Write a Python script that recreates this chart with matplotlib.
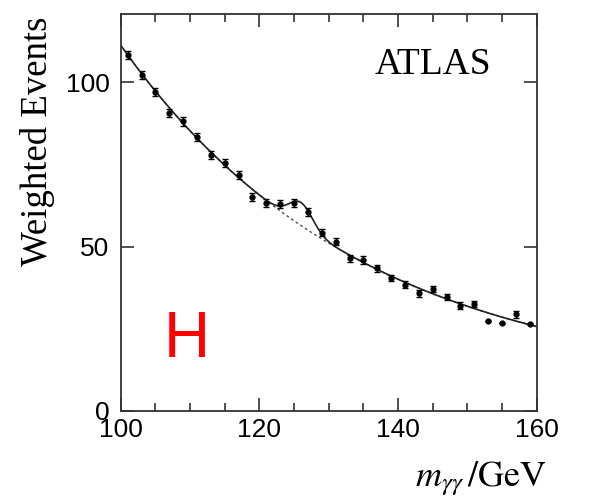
import matplotlib
matplotlib.use("Agg")
import matplotlib.pyplot as plt
import numpy as np
from matplotlib.ticker import MultipleLocator

plt.rcParams['mathtext.fontset'] = 'stix'

# diphoton mass bins (GeV) and weighted event counts
m_gg = [101, 103, 105, 107, 109, 111, 113, 115, 117, 119,
        121, 123, 125, 127, 129, 131, 133, 135, 137, 139,
        141, 143, 145, 147, 149, 151, 153, 155, 157, 159]
events = [108.2, 102.1, 97.0, 90.6, 88.1, 83.3, 77.8, 75.4, 71.7, 65.0,
          63.2, 62.9, 63.2, 60.4, 54.2, 51.5, 46.4, 45.9, 43.4, 40.4,
          38.4, 35.8, 37.1, 34.6, 32.0, 32.5, 27.4, 26.7, 29.4, 26.4]
errors = [1.3, 1.3, 1.3, 1.3, 1.3, 1.2, 1.2, 1.2, 1.2, 1.2,
          1.2, 1.2, 1.2, 1.2, 1.1, 1.1, 1.1, 1.1, 1.0, 1.0,
          1.0, 1.0, 1.0, 1.0, 1.0, 1.0, 0.0, 0.0, 1.0, 0.0]

# background: A*exp(-k*(m-100)) + C ; signal: gaussian bump
bkg_A, bkg_k, bkg_C = 104.0, 0.0288, 7.2
sig_amp, sig_mass, sig_width = 7.0, 126.0, 1.7

x = np.linspace(100, 160, 600)
bkg = bkg_A * np.exp(-bkg_k * (x - 100)) + bkg_C
total = bkg + sig_amp * np.exp(-0.5 * ((x - sig_mass) / sig_width) ** 2)

fig = plt.figure(figsize=(5.9, 5.0), dpi=100)
ax = fig.add_axes([0.2046, 0.178, 0.7051, 0.794])

ax.plot(x, bkg, color='#555555', lw=1.0, ls=(0, (2, 2)))
ax.plot(x, total, color='#222222', lw=1.2)
ax.errorbar(m_gg, events, yerr=errors, fmt='o', color='black', ms=3.5,
            elinewidth=1.0, capsize=2.2, capthick=1.0)

ax.set_xlim(100, 160)
ax.set_ylim(0, 120.7)
ax.xaxis.set_major_locator(MultipleLocator(20))
ax.xaxis.set_minor_locator(MultipleLocator(5))
ax.yaxis.set_major_locator(MultipleLocator(50))
ax.tick_params(which='both', direction='in', top=True, right=True,
               color='#333333', width=1.2)
ax.tick_params(which='major', length=9.5)
ax.tick_params(which='minor', length=5.5)
ax.tick_params(axis='x', pad=5)
ax.tick_params(axis='y', pad=8)
for spine in ax.spines.values():
    spine.set_color('#333333')
    spine.set_linewidth(1.3)
for lab in ax.get_xticklabels() + ax.get_yticklabels():
    lab.set_fontfamily('Liberation Sans')
    lab.set_fontsize(19)

ax.set_ylabel('Weighted Events', family='Liberation Serif', fontsize=26.5)
ax.yaxis.set_label_coords(-0.158, 0.68)
fig.text(0.927, 0.027, r'$m_{\gamma\gamma}\,$/GeV', family='STIXGeneral',
         fontsize=26, ha='right', va='baseline')

fig.text(0.734, 0.853, 'ATLAS', family='Liberation Serif', fontsize=27,
         ha='center', va='baseline')
ax.text(0.159, 0.137, 'H', transform=ax.transAxes, family='Liberation Sans',
        fontsize=46, color='#ff0000', ha='center', va='baseline')

fig.savefig('out.png', dpi=100, facecolor='white')
